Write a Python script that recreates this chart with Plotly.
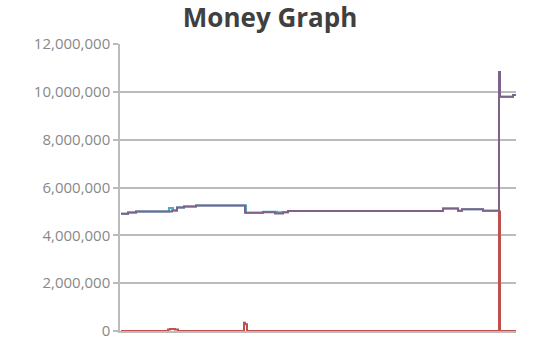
import plotly.graph_objects as go

# x positions (time index) and values (in currency units)
purple_x = [1, 8, 16, 52, 57, 64, 76, 125, 143, 155, 163, 168, 323, 338, 342, 363, 379, 380, 393, 396]
purple_y = [4.90e6, 4.95e6, 5.00e6, 5.04e6, 5.16e6, 5.21e6, 5.25e6, 4.94e6, 4.97e6, 4.91e6,
            4.97e6, 5.02e6, 5.12e6, 5.03e6, 5.09e6, 5.03e6, 10.83e6, 9.79e6, 9.87e6, 9.87e6]

teal_x = [1, 8, 16, 49, 53, 57, 64, 76, 126, 143, 157, 168, 323, 338, 342, 363, 379, 380, 393, 396]
teal_y = [4.90e6, 4.95e6, 5.00e6, 5.14e6, 5.04e6, 5.16e6, 5.21e6, 5.25e6, 4.94e6, 4.99e6,
          4.97e6, 5.02e6, 5.12e6, 5.03e6, 5.09e6, 5.03e6, 10.83e6, 9.79e6, 9.87e6, 9.87e6]

red_x = [1, 48, 50, 55, 58, 124, 125, 127, 379, 380, 396]
red_y = [0, 0.06e6, 0.08e6, 0.06e6, 0, 0.35e6, 0.28e6, 0, 5.0e6, 0, 0]

y_ticks = [0, 2e6, 4e6, 6e6, 8e6, 10e6, 12e6]

fig = go.Figure()
fig.add_trace(go.Scatter(x=red_x, y=red_y, mode="lines", line_shape="hv",
                         line=dict(color="#C0504D", width=2), showlegend=False))
fig.add_trace(go.Scatter(x=teal_x, y=teal_y, mode="lines", line_shape="hv",
                         line=dict(color="#4BACC6", width=2), showlegend=False))
fig.add_trace(go.Scatter(x=purple_x, y=purple_y, mode="lines", line_shape="hv",
                         line=dict(color="#7F6289", width=2), showlegend=False))

fig.update_layout(
    width=537, height=355,
    margin=dict(l=120, r=21, t=44, b=24),
    paper_bgcolor="white", plot_bgcolor="white",
    title=dict(text="<b>Money Graph</b>", x=0.503, xanchor="center", y=0.975, yanchor="top",
               font=dict(family="Open Sans", size=26, color="#404040")),
    xaxis=dict(range=[0, 396], showgrid=False, showticklabels=False, ticks="",
               showline=True, linecolor="#BBBBBB", linewidth=1.5, zeroline=False),
    yaxis=dict(range=[0, 12e6], tickvals=y_ticks, tickformat=",d",
               showgrid=True, gridcolor="#BBBBBB", gridwidth=1.5,
               showline=True, linecolor="#BBBBBB", linewidth=1.5,
               ticks="outside", ticklen=5, tickcolor="#BBBBBB", tickwidth=1.5,
               zeroline=False,
               tickfont=dict(family="Open Sans", size=15, color="#888888")),
)

fig.write_html("out.html")
